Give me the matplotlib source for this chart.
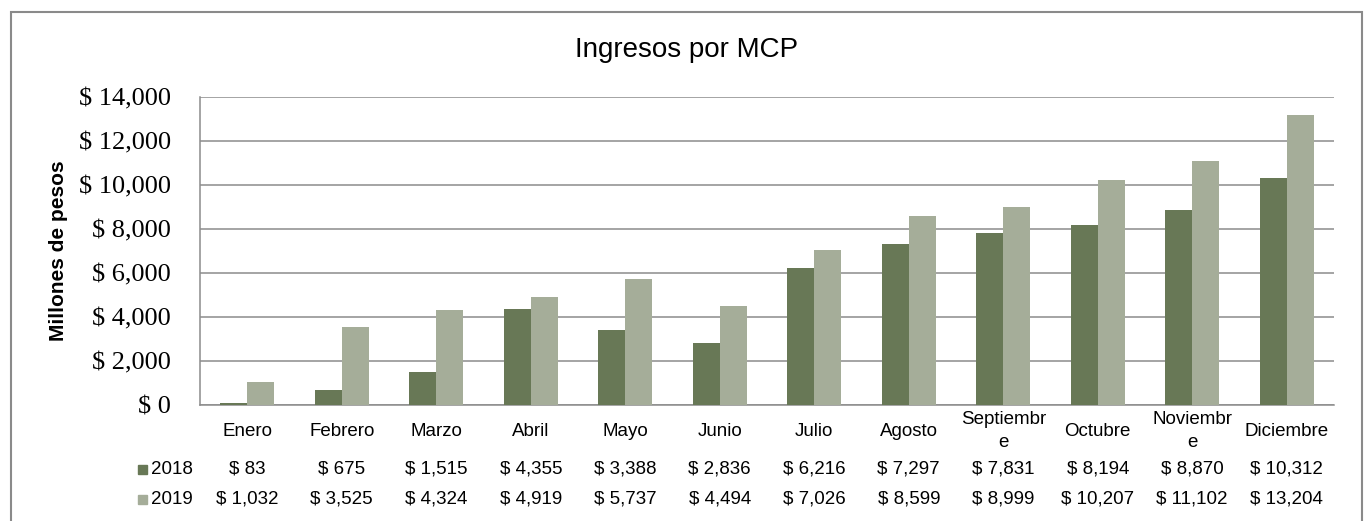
import matplotlib.pyplot as plt
from matplotlib.patches import Rectangle
from matplotlib.ticker import FuncFormatter
import matplotlib.transforms as mtransforms

meses = ["Enero", "Febrero", "Marzo", "Abril", "Mayo", "Junio", "Julio",
         "Agosto", "Septiembr\ne", "Octubre", "Noviembr\ne", "Diciembre"]
ingresos_2018 = [83, 675, 1515, 4355, 3388, 2836, 6216, 7297, 7831, 8194, 8870, 10312]
ingresos_2019 = [1032, 3525, 4324, 4919, 5737, 4494, 7026, 8599, 8999, 10207, 11102, 13204]
series = ["2018", "2019"]
colores = ["#687856", "#a5ad99"]

W, H = 1368, 521


def main():
    plt.rcParams['font.family'] = ['Liberation Sans', 'DejaVu Sans']
    fig = plt.figure(figsize=(W / 100, H / 100), dpi=100)

    # outer chart border (bottom edge is cut off in the original)
    fig.patches.append(Rectangle((11 / W, -0.05), (1362 - 11) / W, 1.05 - 12 / H,
                                 transform=fig.transFigure, fill=False,
                                 edgecolor="#8a8a8a", linewidth=1.5))

    ax = fig.add_axes([200 / W, 1 - 405 / H, (1334 - 200) / W, (405 - 97) / H])
    x = list(range(len(meses)))
    bw = 0.286
    ax.bar([i - bw / 2 for i in x], ingresos_2018, width=bw, color=colores[0], zorder=3)
    ax.bar([i + bw / 2 for i in x], ingresos_2019, width=bw, color=colores[1], zorder=3)

    ax.set_xlim(-0.5, len(meses) - 0.5)
    ax.set_ylim(0, 14000)
    ax.set_yticks(range(0, 14001, 2000))
    ax.yaxis.set_major_formatter(FuncFormatter(lambda v, p: "$ {:,.0f}".format(v)))
    for lbl in ax.get_yticklabels():
        lbl.set_family("Liberation Serif")
        lbl.set_fontsize(19)
    ax.tick_params(axis="y", length=0, pad=21)
    ax.set_xticks([])
    ax.grid(axis="y", color="#8c8c8c", linewidth=1.1, zorder=0)
    for s in ["top", "right"]:
        ax.spines[s].set_visible(False)
    for s in ["left", "bottom"]:
        ax.spines[s].set_color("#8c8c8c")
        ax.spines[s].set_linewidth(1.1)

    fig.text(59 / W, 1 - 251 / H, "Millones de pesos", rotation=90, fontsize=15,
             fontweight="bold", ha="center", va="center")
    fig.text(687 / W, 1 - 50 / H, "Ingresos por MCP", fontsize=20,
             ha="center", va="center")

    # data table below the axis
    trans = mtransforms.blended_transform_factory(ax.transData, fig.transFigure)
    for i, m in enumerate(meses):
        fig.text(i, 1 - 431 / H, m, transform=trans, fontsize=13.5,
                 ha="center", va="center", linespacing=1.4)
    filas = [ingresos_2018, ingresos_2019]
    ys = [469, 499]
    for k, fila in enumerate(filas):
        y = 1 - ys[k] / H
        fig.patches.append(Rectangle((138 / W, y - 4.5 / H), 9 / W, 9 / H,
                                     transform=fig.transFigure, color=colores[k]))
        fig.text(151 / W, y, series[k], fontsize=13.5, ha="left", va="center")
        for i, v in enumerate(fila):
            fig.text(i, y, "$ {:,}".format(v), transform=trans, fontsize=13.5,
                     ha="center", va="center")

    plt.savefig("out.png", dpi=100)


if __name__ == "__main__":
    main()
